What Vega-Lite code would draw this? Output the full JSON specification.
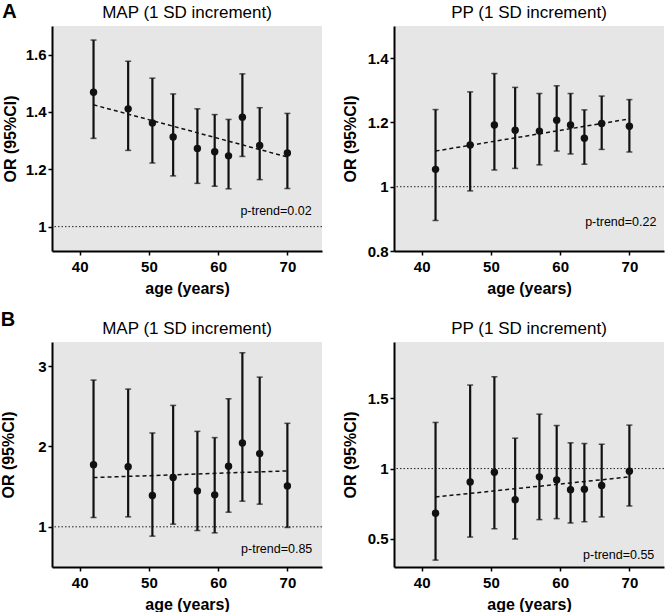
{
  "$schema": "https://vega.github.io/schema/vega-lite/v6.json",
  "padding": {"left": 0, "top": 2, "right": 0, "bottom": 0},
  "background": "white",
  "datasets": {
    "amap": [
      {"age": 42, "or": 1.469, "lo": 1.308, "hi": 1.651},
      {"age": 47, "or": 1.411, "lo": 1.266, "hi": 1.577},
      {"age": 50.5, "or": 1.362, "lo": 1.222, "hi": 1.518},
      {"age": 53.5, "or": 1.313, "lo": 1.177, "hi": 1.463},
      {"age": 57, "or": 1.273, "lo": 1.151, "hi": 1.411},
      {"age": 59.5, "or": 1.261, "lo": 1.141, "hi": 1.391},
      {"age": 61.5, "or": 1.247, "lo": 1.132, "hi": 1.374},
      {"age": 63.5, "or": 1.382, "lo": 1.245, "hi": 1.533},
      {"age": 66, "or": 1.283, "lo": 1.164, "hi": 1.415},
      {"age": 70, "or": 1.257, "lo": 1.133, "hi": 1.395}
    ],
    "app": [
      {"age": 42, "or": 1.054, "lo": 0.895, "hi": 1.240},
      {"age": 47, "or": 1.130, "lo": 0.987, "hi": 1.295},
      {"age": 50.5, "or": 1.192, "lo": 1.052, "hi": 1.352},
      {"age": 53.5, "or": 1.176, "lo": 1.057, "hi": 1.309},
      {"age": 57, "or": 1.173, "lo": 1.068, "hi": 1.290},
      {"age": 59.5, "or": 1.207, "lo": 1.111, "hi": 1.314},
      {"age": 61.5, "or": 1.192, "lo": 1.102, "hi": 1.290},
      {"age": 63.5, "or": 1.151, "lo": 1.070, "hi": 1.239},
      {"age": 66, "or": 1.197, "lo": 1.116, "hi": 1.282},
      {"age": 70, "or": 1.188, "lo": 1.108, "hi": 1.271}
    ],
    "bmap": [
      {"age": 42, "or": 1.774, "lo": 1.116, "hi": 2.826},
      {"age": 47, "or": 1.749, "lo": 1.124, "hi": 2.714},
      {"age": 50.5, "or": 1.389, "lo": 0.884, "hi": 2.168},
      {"age": 53.5, "or": 1.613, "lo": 1.033, "hi": 2.511},
      {"age": 57, "or": 1.447, "lo": 0.954, "hi": 2.188},
      {"age": 59.5, "or": 1.398, "lo": 0.925, "hi": 2.110},
      {"age": 61.5, "or": 1.754, "lo": 1.182, "hi": 2.594},
      {"age": 63.5, "or": 2.043, "lo": 1.319, "hi": 3.166},
      {"age": 66, "or": 1.911, "lo": 1.282, "hi": 2.863},
      {"age": 70, "or": 1.509, "lo": 0.992, "hi": 2.288}
    ],
    "bpp": [
      {"age": 42, "or": 0.682, "lo": 0.349, "hi": 1.328},
      {"age": 47, "or": 0.905, "lo": 0.513, "hi": 1.594},
      {"age": 50.5, "or": 0.974, "lo": 0.572, "hi": 1.653},
      {"age": 53.5, "or": 0.779, "lo": 0.499, "hi": 1.216},
      {"age": 57, "or": 0.941, "lo": 0.637, "hi": 1.387},
      {"age": 59.5, "or": 0.919, "lo": 0.644, "hi": 1.306},
      {"age": 61.5, "or": 0.850, "lo": 0.613, "hi": 1.183},
      {"age": 63.5, "or": 0.853, "lo": 0.622, "hi": 1.178},
      {"age": 66, "or": 0.879, "lo": 0.656, "hi": 1.173},
      {"age": 70, "or": 0.981, "lo": 0.734, "hi": 1.309}
    ],
    "trend": [
      {"panel": "amap", "age": 42, "or": 1.425},
      {"panel": "amap", "age": 70, "or": 1.243},
      {"panel": "app", "age": 42, "or": 1.111},
      {"panel": "app", "age": 70, "or": 1.211},
      {"panel": "bmap", "age": 42, "or": 1.613},
      {"panel": "bmap", "age": 70, "or": 1.696},
      {"panel": "bpp", "age": 42, "or": 0.798},
      {"panel": "bpp", "age": 70, "or": 0.941}
    ],
    "notes": [
      {"panel": "amap", "age": 73.5, "or": 1.053, "label": "p-trend=0.02"},
      {"panel": "app", "age": 73.9, "or": 0.891, "label": "p-trend=0.22"},
      {"panel": "bmap", "age": 73.6, "or": 0.73, "label": "p-trend=0.85"},
      {"panel": "bpp", "age": 73.6, "or": 0.387, "label": "p-trend=0.55"}
    ],
    "ref": [{"ref": 1}]
  },
  "vconcat": [
    {
      "title": {"text": "A", "anchor": "start", "frame": "bounds", "fontSize": 20, "fontWeight": "bold", "offset": -18},
      "spacing": 19,
      "hconcat": [
        {
          "width": 270, "height": 225,
          "title": "MAP (1 SD increment)",
          "layer": [
            {"data": {"name": "ref"}, "mark": {"type": "rule", "color": "#222", "strokeWidth": 1, "strokeDash": [1.5, 2]},
             "encoding": {"y": {"field": "ref", "type": "quantitative", "scale": {"domain": [0.915, 1.7]}, "title": "OR (95%CI)", "axis": {"values": [1, 1.2, 1.4, 1.6], "format": "~g", "titlePadding": 7}}}},
            {"data": {"name": "amap"}, "mark": {"type": "rule", "color": "#111", "strokeWidth": 2.2},
             "encoding": {"x": {"field": "age", "type": "quantitative", "scale": {"domain": [36, 75]}, "title": "age (years)", "axis": {"values": [40, 50, 60, 70]}},
                          "y": {"field": "lo", "type": "quantitative", "scale": {"domain": [0.915, 1.7]}, "title": "OR (95%CI)"}, "y2": {"field": "hi"}}},
            {"data": {"name": "amap"}, "mark": {"type": "tick", "orient": "horizontal", "size": 6, "thickness": 1.5, "color": "#111"},
             "encoding": {"x": {"field": "age", "type": "quantitative", "scale": {"domain": [36, 75]}, "title": "age (years)"},
                          "y": {"field": "lo", "type": "quantitative", "scale": {"domain": [0.915, 1.7]}, "title": "OR (95%CI)"}}},
            {"data": {"name": "amap"}, "mark": {"type": "tick", "orient": "horizontal", "size": 6, "thickness": 1.5, "color": "#111"},
             "encoding": {"x": {"field": "age", "type": "quantitative", "scale": {"domain": [36, 75]}, "title": "age (years)"},
                          "y": {"field": "hi", "type": "quantitative", "scale": {"domain": [0.915, 1.7]}, "title": "OR (95%CI)"}}},
            {"data": {"name": "trend"}, "transform": [{"filter": "datum.panel == 'amap'"}], "mark": {"type": "line", "color": "#111", "strokeWidth": 1.5, "strokeDash": [4, 3]},
             "encoding": {"x": {"field": "age", "type": "quantitative", "scale": {"domain": [36, 75]}, "title": "age (years)"},
                          "y": {"field": "or", "type": "quantitative", "scale": {"domain": [0.915, 1.7]}, "title": "OR (95%CI)"}}},
            {"data": {"name": "amap"}, "mark": {"type": "circle", "size": 55, "color": "#111", "opacity": 1},
             "encoding": {"x": {"field": "age", "type": "quantitative", "scale": {"domain": [36, 75]}, "title": "age (years)"},
                          "y": {"field": "or", "type": "quantitative", "scale": {"domain": [0.915, 1.7]}, "title": "OR (95%CI)"}}},
            {"data": {"name": "notes"}, "transform": [{"filter": "datum.panel == 'amap'"}], "mark": {"type": "text", "align": "right", "baseline": "middle", "fontSize": 12.5, "color": "#000"},
             "encoding": {"x": {"field": "age", "type": "quantitative", "scale": {"domain": [36, 75]}, "title": "age (years)"},
                          "y": {"field": "or", "type": "quantitative", "scale": {"domain": [0.915, 1.7]}, "title": "OR (95%CI)"},
                          "text": {"field": "label"}}}
          ]
        },
        {
          "width": 270, "height": 225,
          "title": "PP (1 SD increment)",
          "layer": [
            {"data": {"name": "ref"}, "mark": {"type": "rule", "color": "#222", "strokeWidth": 1, "strokeDash": [1.5, 2]},
             "encoding": {"y": {"field": "ref", "type": "quantitative", "scale": {"domain": [0.8, 1.5]}, "title": "OR (95%CI)", "axis": {"values": [0.8, 1, 1.2, 1.4], "format": "~g", "titlePadding": 9}}}},
            {"data": {"name": "app"}, "mark": {"type": "rule", "color": "#111", "strokeWidth": 2.2},
             "encoding": {"x": {"field": "age", "type": "quantitative", "scale": {"domain": [36, 75]}, "title": "age (years)", "axis": {"values": [40, 50, 60, 70]}},
                          "y": {"field": "lo", "type": "quantitative", "scale": {"domain": [0.8, 1.5]}, "title": "OR (95%CI)"}, "y2": {"field": "hi"}}},
            {"data": {"name": "app"}, "mark": {"type": "tick", "orient": "horizontal", "size": 6, "thickness": 1.5, "color": "#111"},
             "encoding": {"x": {"field": "age", "type": "quantitative", "scale": {"domain": [36, 75]}, "title": "age (years)"},
                          "y": {"field": "lo", "type": "quantitative", "scale": {"domain": [0.8, 1.5]}, "title": "OR (95%CI)"}}},
            {"data": {"name": "app"}, "mark": {"type": "tick", "orient": "horizontal", "size": 6, "thickness": 1.5, "color": "#111"},
             "encoding": {"x": {"field": "age", "type": "quantitative", "scale": {"domain": [36, 75]}, "title": "age (years)"},
                          "y": {"field": "hi", "type": "quantitative", "scale": {"domain": [0.8, 1.5]}, "title": "OR (95%CI)"}}},
            {"data": {"name": "trend"}, "transform": [{"filter": "datum.panel == 'app'"}], "mark": {"type": "line", "color": "#111", "strokeWidth": 1.5, "strokeDash": [4, 3]},
             "encoding": {"x": {"field": "age", "type": "quantitative", "scale": {"domain": [36, 75]}, "title": "age (years)"},
                          "y": {"field": "or", "type": "quantitative", "scale": {"domain": [0.8, 1.5]}, "title": "OR (95%CI)"}}},
            {"data": {"name": "app"}, "mark": {"type": "circle", "size": 55, "color": "#111", "opacity": 1},
             "encoding": {"x": {"field": "age", "type": "quantitative", "scale": {"domain": [36, 75]}, "title": "age (years)"},
                          "y": {"field": "or", "type": "quantitative", "scale": {"domain": [0.8, 1.5]}, "title": "OR (95%CI)"}}},
            {"data": {"name": "notes"}, "transform": [{"filter": "datum.panel == 'app'"}], "mark": {"type": "text", "align": "right", "baseline": "middle", "fontSize": 12.5, "color": "#000"},
             "encoding": {"x": {"field": "age", "type": "quantitative", "scale": {"domain": [36, 75]}, "title": "age (years)"},
                          "y": {"field": "or", "type": "quantitative", "scale": {"domain": [0.8, 1.5]}, "title": "OR (95%CI)"},
                          "text": {"field": "label"}}}
          ]
        }
      ]
    },
    {
      "title": {"text": "B", "anchor": "start", "frame": "bounds", "fontSize": 20, "fontWeight": "bold", "offset": -10},
      "spacing": 19,
      "hconcat": [
        {
          "width": 270, "height": 225,
          "title": "MAP (1 SD increment)",
          "layer": [
            {"data": {"name": "ref"}, "mark": {"type": "rule", "color": "#222", "strokeWidth": 1, "strokeDash": [1.5, 2]},
             "encoding": {"y": {"field": "ref", "type": "quantitative", "scale": {"domain": [0.5, 3.3]}, "title": "OR (95%CI)", "axis": {"values": [1, 2, 3], "format": "~g", "titlePadding": 21}}}},
            {"data": {"name": "bmap"}, "mark": {"type": "rule", "color": "#111", "strokeWidth": 2.2},
             "encoding": {"x": {"field": "age", "type": "quantitative", "scale": {"domain": [36, 75]}, "title": "age (years)", "axis": {"values": [40, 50, 60, 70]}},
                          "y": {"field": "lo", "type": "quantitative", "scale": {"domain": [0.5, 3.3]}, "title": "OR (95%CI)"}, "y2": {"field": "hi"}}},
            {"data": {"name": "bmap"}, "mark": {"type": "tick", "orient": "horizontal", "size": 6, "thickness": 1.5, "color": "#111"},
             "encoding": {"x": {"field": "age", "type": "quantitative", "scale": {"domain": [36, 75]}, "title": "age (years)"},
                          "y": {"field": "lo", "type": "quantitative", "scale": {"domain": [0.5, 3.3]}, "title": "OR (95%CI)"}}},
            {"data": {"name": "bmap"}, "mark": {"type": "tick", "orient": "horizontal", "size": 6, "thickness": 1.5, "color": "#111"},
             "encoding": {"x": {"field": "age", "type": "quantitative", "scale": {"domain": [36, 75]}, "title": "age (years)"},
                          "y": {"field": "hi", "type": "quantitative", "scale": {"domain": [0.5, 3.3]}, "title": "OR (95%CI)"}}},
            {"data": {"name": "trend"}, "transform": [{"filter": "datum.panel == 'bmap'"}], "mark": {"type": "line", "color": "#111", "strokeWidth": 1.5, "strokeDash": [4, 3]},
             "encoding": {"x": {"field": "age", "type": "quantitative", "scale": {"domain": [36, 75]}, "title": "age (years)"},
                          "y": {"field": "or", "type": "quantitative", "scale": {"domain": [0.5, 3.3]}, "title": "OR (95%CI)"}}},
            {"data": {"name": "bmap"}, "mark": {"type": "circle", "size": 55, "color": "#111", "opacity": 1},
             "encoding": {"x": {"field": "age", "type": "quantitative", "scale": {"domain": [36, 75]}, "title": "age (years)"},
                          "y": {"field": "or", "type": "quantitative", "scale": {"domain": [0.5, 3.3]}, "title": "OR (95%CI)"}}},
            {"data": {"name": "notes"}, "transform": [{"filter": "datum.panel == 'bmap'"}], "mark": {"type": "text", "align": "right", "baseline": "middle", "fontSize": 12.5, "color": "#000"},
             "encoding": {"x": {"field": "age", "type": "quantitative", "scale": {"domain": [36, 75]}, "title": "age (years)"},
                          "y": {"field": "or", "type": "quantitative", "scale": {"domain": [0.5, 3.3]}, "title": "OR (95%CI)"},
                          "text": {"field": "label"}}}
          ]
        },
        {
          "width": 270, "height": 225,
          "title": "PP (1 SD increment)",
          "layer": [
            {"data": {"name": "ref"}, "mark": {"type": "rule", "color": "#222", "strokeWidth": 1, "strokeDash": [1.5, 2]},
             "encoding": {"y": {"field": "ref", "type": "quantitative", "scale": {"domain": [0.3, 1.9]}, "title": "OR (95%CI)", "axis": {"values": [0.5, 1, 1.5], "format": "~g", "titlePadding": 9}}}},
            {"data": {"name": "bpp"}, "mark": {"type": "rule", "color": "#111", "strokeWidth": 2.2},
             "encoding": {"x": {"field": "age", "type": "quantitative", "scale": {"domain": [36, 75]}, "title": "age (years)", "axis": {"values": [40, 50, 60, 70]}},
                          "y": {"field": "lo", "type": "quantitative", "scale": {"domain": [0.3, 1.9]}, "title": "OR (95%CI)"}, "y2": {"field": "hi"}}},
            {"data": {"name": "bpp"}, "mark": {"type": "tick", "orient": "horizontal", "size": 6, "thickness": 1.5, "color": "#111"},
             "encoding": {"x": {"field": "age", "type": "quantitative", "scale": {"domain": [36, 75]}, "title": "age (years)"},
                          "y": {"field": "lo", "type": "quantitative", "scale": {"domain": [0.3, 1.9]}, "title": "OR (95%CI)"}}},
            {"data": {"name": "bpp"}, "mark": {"type": "tick", "orient": "horizontal", "size": 6, "thickness": 1.5, "color": "#111"},
             "encoding": {"x": {"field": "age", "type": "quantitative", "scale": {"domain": [36, 75]}, "title": "age (years)"},
                          "y": {"field": "hi", "type": "quantitative", "scale": {"domain": [0.3, 1.9]}, "title": "OR (95%CI)"}}},
            {"data": {"name": "trend"}, "transform": [{"filter": "datum.panel == 'bpp'"}], "mark": {"type": "line", "color": "#111", "strokeWidth": 1.5, "strokeDash": [4, 3]},
             "encoding": {"x": {"field": "age", "type": "quantitative", "scale": {"domain": [36, 75]}, "title": "age (years)"},
                          "y": {"field": "or", "type": "quantitative", "scale": {"domain": [0.3, 1.9]}, "title": "OR (95%CI)"}}},
            {"data": {"name": "bpp"}, "mark": {"type": "circle", "size": 55, "color": "#111", "opacity": 1},
             "encoding": {"x": {"field": "age", "type": "quantitative", "scale": {"domain": [36, 75]}, "title": "age (years)"},
                          "y": {"field": "or", "type": "quantitative", "scale": {"domain": [0.3, 1.9]}, "title": "OR (95%CI)"}}},
            {"data": {"name": "notes"}, "transform": [{"filter": "datum.panel == 'bpp'"}], "mark": {"type": "text", "align": "right", "baseline": "middle", "fontSize": 12.5, "color": "#000"},
             "encoding": {"x": {"field": "age", "type": "quantitative", "scale": {"domain": [36, 75]}, "title": "age (years)"},
                          "y": {"field": "or", "type": "quantitative", "scale": {"domain": [0.3, 1.9]}, "title": "OR (95%CI)"},
                          "text": {"field": "label"}}}
          ]
        }
      ]
    }
  ],
  "spacing": 14,
  "config": {
    "font": "Liberation Sans",
    "view": {"fill": "#e6e6e6", "stroke": null},
    "axis": {"domainColor": "#000", "domainWidth": 2, "tickColor": "#000", "tickWidth": 1.5, "tickSize": 4, "grid": false,
             "labelFont": "Liberation Sans", "labelFontSize": 15, "labelFontWeight": "bold", "labelColor": "#000",
             "titleFont": "Liberation Sans", "titleFontSize": 16, "titleFontWeight": "bold", "titleColor": "#000"},
    "axisX": {"titlePadding": 6, "labelPadding": 4, "labelFlush": false},
    "axisY": {"labelPadding": 2},
    "title": {"font": "Liberation Sans", "fontSize": 17, "fontWeight": "normal", "color": "#000", "offset": 4}
  }
}
